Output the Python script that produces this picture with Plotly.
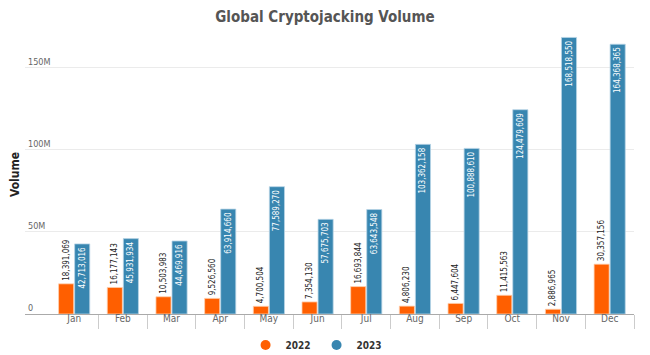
import plotly.graph_objects as go

months = ["Jan", "Feb", "Mar", "Apr", "May", "Jun", "Jul", "Aug", "Sep", "Oct", "Nov", "Dec"]
vol_2022 = [18391069, 16177143, 10503983, 9526560, 4700504, 7354130, 16693844, 4806230, 6447604, 11415563, 2886965, 30357156]
vol_2023 = [42713016, 45931934, 44469916, 63914660, 77589270, 57675703, 63643548, 103362158, 100888610, 124479609, 168518550, 164368365]
y_ticks = [0, 50e6, 100e6, 150e6]
y_tick_labels = ["0", "50M", "100M", "150M"]

FONT = "DejaVu Sans Condensed, Roboto, sans-serif"
ORANGE = "#FF5F00"
BLUE = "#3886B0"

fig = go.Figure()
fig.add_trace(go.Bar(
    x=months, y=vol_2022, name="2022", marker=dict(color=ORANGE, line=dict(color="#ffd0b0", width=0.8)),
    text=[f"{v:,}" for v in vol_2022], textposition="outside", textangle=-90,
    textfont=dict(size=8, color="#222", family=FONT), cliponaxis=False, constraintext="none",
    showlegend=False,
))
fig.add_trace(go.Bar(
    x=months, y=vol_2023, name="2023", marker=dict(color=BLUE, line=dict(color="#b8d4e6", width=0.8)),
    text=[f"{v:,}" for v in vol_2023], textposition="inside", insidetextanchor="end", textangle=-90,
    textfont=dict(size=8, color="white", family=FONT), constraintext="none",
    showlegend=False,
))
for name, col in [("2022", ORANGE), ("2023", BLUE)]:
    fig.add_trace(go.Scatter(x=[None], y=[None], mode="markers", name=f"<b>{name}</b>",
                             marker=dict(color=col, size=10, symbol="circle")))

fig.update_layout(
    width=650, height=355,
    margin=dict(l=25, r=16, t=35, b=41, autoexpand=False),
    paper_bgcolor="white", plot_bgcolor="white",
    font=dict(family=FONT, color="#555"),
    title=dict(text="<b>Global Cryptojacking Volume</b>", x=0.5, xref="container", xanchor="center",
               y=1 - 17 / 355, yref="container", yanchor="middle",
               font=dict(size=15, color="#555", family=FONT)),
    barmode="group", bargap=0.34, bargroupgap=0.06,
    legend=dict(orientation="h", xref="container", x=0.487, xanchor="center",
                yref="container", y=1 - 345 / 355, yanchor="middle",
                font=dict(size=10, color="#333", family=FONT), itemwidth=30,
                entrywidth=26, entrywidthmode="pixels"),
)
fig.update_xaxes(
    automargin=False, range=[-1.01, 11.5],
    showline=True, linecolor="#aaa", linewidth=1,
    ticks="outside", tickson="boundaries", ticklen=14, tickcolor="#ccc",
    ticklabelstandoff=-5,
    tickfont=dict(size=10, color="#666", family=FONT),
)
fig.update_yaxes(
    automargin=False,
    range=[0, 170e6], tickvals=y_ticks, ticktext=y_tick_labels,
    ticklabelposition="inside top",
    showgrid=True, gridcolor="#ebebeb", zeroline=False,
    tickfont=dict(size=9, color="#666", family=FONT),
    title=dict(text="<b>Volume</b>", font=dict(size=12, color="#222", family=FONT), standoff=5),
)

fig.write_html("out.html", config={"displayModeBar": False},
               post_script="document.body.style.margin='0';")
